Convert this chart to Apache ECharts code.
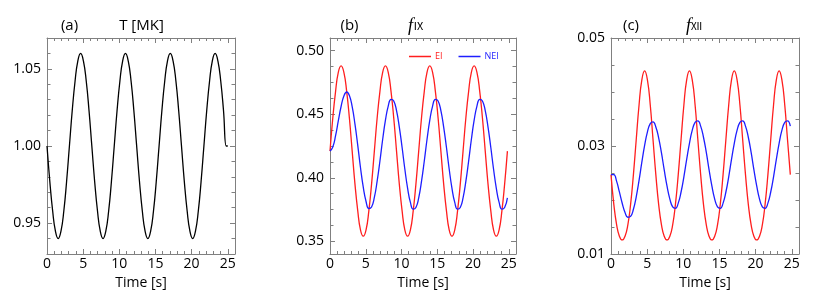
<!DOCTYPE html>
<html>
<head>
<meta charset="utf-8">
<script src="https://cdn.jsdelivr.net/npm/echarts@6/dist/echarts.min.js"></script>
<style>
  html, body { margin: 0; padding: 0; background: #fff; }
  #chart { width: 831px; height: 300px; }
</style>
</head>
<body>
<div id="chart"></div>
<script>
  // time [s], one sample every ~0.39 s
  var time = [0, 0.39, 0.78, 1.16, 1.55, 1.94, 2.33, 2.71, 3.10, 3.49, 3.88, 4.26, 4.65, 5.04, 5.43, 5.81,
    6.20, 6.59, 6.98, 7.36, 7.75, 8.14, 8.53, 8.91, 9.30, 9.69, 10.08, 10.46, 10.85, 11.24, 11.63, 12.01,
    12.40, 12.79, 13.18, 13.56, 13.95, 14.34, 14.73, 15.11, 15.50, 15.89, 16.28, 16.66, 17.05, 17.44, 17.83, 18.21,
    18.60, 18.99, 19.38, 19.76, 20.15, 20.54, 20.93, 21.31, 21.70, 22.09, 22.48, 22.86, 23.25, 23.64, 24.03, 24.41,
    24.80]

  // (a) T [MK]  (last point: flat end at t = 25)
  var timeT = time.concat([25])
  var tempMK = [1.000, 0.977, 0.958, 0.945, 0.940, 0.945, 0.958, 0.977, 1.000, 1.023, 1.042, 1.055, 1.060, 1.055, 1.042, 1.023,
    1.000, 0.977, 0.958, 0.945, 0.940, 0.945, 0.958, 0.977, 1.000, 1.023, 1.042, 1.055, 1.060, 1.055, 1.042, 1.023,
    1.000, 0.977, 0.958, 0.945, 0.940, 0.945, 0.958, 0.977, 1.000, 1.023, 1.042, 1.055, 1.060, 1.055, 1.042, 1.023,
    1.000, 0.977, 0.958, 0.945, 0.940, 0.945, 0.958, 0.977, 1.000, 1.023, 1.042, 1.055, 1.060, 1.055, 1.042, 1.023,
    1.000, 1.000]

  // (b) f_IX
  var fIX_EI = [0.421, 0.447, 0.468, 0.483, 0.488, 0.483, 0.468, 0.447, 0.421, 0.395, 0.374, 0.359, 0.354, 0.359, 0.374, 0.395,
    0.421, 0.447, 0.468, 0.483, 0.488, 0.483, 0.468, 0.447, 0.421, 0.395, 0.374, 0.359, 0.354, 0.359, 0.374, 0.395,
    0.421, 0.447, 0.468, 0.483, 0.488, 0.483, 0.468, 0.447, 0.421, 0.395, 0.374, 0.359, 0.354, 0.359, 0.374, 0.395,
    0.421, 0.447, 0.468, 0.483, 0.488, 0.483, 0.468, 0.447, 0.421, 0.395, 0.374, 0.359, 0.354, 0.359, 0.374, 0.395,
    0.421]
  var fIX_NEI = [0.4210, 0.4242, 0.4331, 0.4447, 0.4561, 0.4643, 0.4675, 0.4647, 0.4559, 0.4422, 0.4255, 0.4081, 0.3926, 0.3813, 0.3758, 0.3770,
    0.3845, 0.3973, 0.4132, 0.4301, 0.4453, 0.4564, 0.4617, 0.4604, 0.4528, 0.4399, 0.4238, 0.4069, 0.3917, 0.3806, 0.3753, 0.3766,
    0.3842, 0.3971, 0.4132, 0.4301, 0.4453, 0.4564, 0.4617, 0.4604, 0.4528, 0.4399, 0.4238, 0.4069, 0.3917, 0.3806, 0.3753, 0.3766,
    0.3842, 0.3971, 0.4132, 0.4301, 0.4453, 0.4564, 0.4617, 0.4604, 0.4528, 0.4399, 0.4238, 0.4069, 0.3917, 0.3806, 0.3753, 0.3766,
    0.3842]

  // (c) f_XII
  var fXII_EI = [0.0247, 0.0192, 0.0154, 0.0133, 0.0126, 0.0133, 0.0154, 0.0192, 0.0247, 0.0312, 0.0376, 0.0422, 0.0439, 0.0422, 0.0376, 0.0312,
    0.0247, 0.0192, 0.0154, 0.0133, 0.0126, 0.0133, 0.0154, 0.0192, 0.0247, 0.0312, 0.0376, 0.0422, 0.0439, 0.0422, 0.0376, 0.0312,
    0.0247, 0.0192, 0.0154, 0.0133, 0.0126, 0.0133, 0.0154, 0.0192, 0.0247, 0.0312, 0.0376, 0.0422, 0.0439, 0.0422, 0.0376, 0.0312,
    0.0247, 0.0192, 0.0154, 0.0133, 0.0126, 0.0133, 0.0154, 0.0192, 0.0247, 0.0312, 0.0376, 0.0422, 0.0439, 0.0422, 0.0376, 0.0312,
    0.0247]
  var fXII_NEI = [0.0247, 0.02468, 0.02344, 0.02149, 0.0194, 0.0177, 0.01681, 0.01698, 0.01828, 0.0206, 0.02362, 0.02695, 0.0301, 0.03262, 0.03414, 0.03446,
    0.03353, 0.03151, 0.02871, 0.02556, 0.02255, 0.02017, 0.01872, 0.01845, 0.01942, 0.02148, 0.0243, 0.02747, 0.0305, 0.03293, 0.03438, 0.03465,
    0.03368, 0.03162, 0.0288, 0.02563, 0.0226, 0.02017, 0.01872, 0.01845, 0.01942, 0.02148, 0.0243, 0.02747, 0.0305, 0.03293, 0.03438, 0.03465,
    0.03368, 0.03162, 0.0288, 0.02563, 0.0226, 0.02017, 0.01872, 0.01845, 0.01942, 0.02148, 0.0243, 0.02747, 0.0305, 0.03293, 0.03438, 0.03465,
    0.03368]

  // ticks
  var xMajor = [0, 5, 10, 15, 20, 25]
  var xMinor = [1, 2, 3, 4, 6, 7, 8, 9, 11, 12, 13, 14, 16, 17, 18, 19, 21, 22, 23, 24]
  var yMajorA = [0.95, 1.00, 1.05]
  var yMinorA = [0.94, 0.96, 0.97, 0.98, 0.99, 1.01, 1.02, 1.03, 1.04, 1.06]
  var yMajorB = [0.35, 0.40, 0.45, 0.50]
  var yMinorB = [0.3625, 0.375, 0.3875, 0.4125, 0.425, 0.4375, 0.4625, 0.475, 0.4875]
  var yMajorC = [0.01, 0.03, 0.05]
  var yMinorC = [0.015, 0.02, 0.025, 0.035, 0.04, 0.045]

  var FONT = 'Open Sans'
  var GRAY = '#808080'
  var RED = '#ff1e1e'
  var BLUE = '#1e1eff'

  var panels = [
    { left: 47, width: 188, yMin: 0.93, yMax: 1.07, yMajor: yMajorA, yMinor: yMinorA },
    { left: 330, width: 186, yMin: 0.34, yMax: 0.51, yMajor: yMajorB, yMinor: yMinorB },
    { left: 611, width: 188, yMin: 0.01, yMax: 0.05, yMajor: yMajorC, yMinor: yMinorC }
  ]

  function tickAxis(g, pos, min, max, ticks, len, line, labels, extra) {
    var ax = {
      type: 'value', gridIndex: g, position: pos, min: min, max: max,
      splitLine: { show: false },
      axisLine: { show: line, onZero: false, lineStyle: { color: GRAY, width: 1 } },
      axisTick: { show: true, inside: true, length: len, customValues: ticks, lineStyle: { color: GRAY, width: 1 } },
      axisLabel: labels ? labels : { show: false }
    }
    return Object.assign(ax, extra || {})
  }

  var grids = [], xAxes = [], yAxes = []
  panels.forEach(function (p, g) {
    grids.push({ left: p.left, top: 38, width: p.width, height: 216, outerBoundsMode: 'none' })

    xAxes.push(tickAxis(g, 'bottom', 0, 26, xMajor, 5, true, {
      customValues: xMajor, color: '#000', fontSize: 14, fontFamily: FONT, margin: 3
    }, {
      name: 'Time [s]', nameLocation: 'middle', nameGap: 16,
      nameTextStyle: { color: '#000', fontSize: 14, fontFamily: FONT }
    }))
    xAxes.push(tickAxis(g, 'bottom', 0, 26, xMinor, 3, false))
    xAxes.push(tickAxis(g, 'top', 0, 26, xMajor, 5, true))
    xAxes.push(tickAxis(g, 'top', 0, 26, xMinor, 3, false))

    yAxes.push(tickAxis(g, 'left', p.yMin, p.yMax, p.yMajor, 5, true, {
      customValues: p.yMajor, color: '#000', fontSize: 14, fontFamily: FONT, margin: 6,
      formatter: function (v) { return v.toFixed(2) }
    }))
    yAxes.push(tickAxis(g, 'left', p.yMin, p.yMax, p.yMinor, 3.5, false))
    yAxes.push(tickAxis(g, 'right', p.yMin, p.yMax, p.yMajor, 5, true))
    yAxes.push(tickAxis(g, 'right', p.yMin, p.yMax, p.yMinor, 3.5, false))
  })

  function line(name, g, xs, ys, color) {
    return {
      type: 'line', name: name, xAxisIndex: g * 4, yAxisIndex: g * 4,
      data: xs.map(function (t, i) { return [t, ys[i]] }),
      showSymbol: false, symbol: 'none', smooth: true, color: color,
      lineStyle: { color: color, width: 1.3 }, silent: true
    }
  }

  var series = [
    line('T', 0, timeT, tempMK, '#000'),
    line('EI', 1, time, fIX_EI, RED),
    line('NEI', 1, time, fIX_NEI, BLUE),
    line('EI', 2, time, fXII_EI, RED),
    line('NEI', 2, time, fXII_NEI, BLUE)
  ]

  function label(x, y, text, extra) {
    return {
      type: 'text', x: x, y: y,
      style: Object.assign({
        text: text, fill: '#000', font: '15px "Open Sans"',
        textAlign: 'center', textVerticalAlign: 'middle'
      }, extra || {})
    }
  }
  var fRich = {
    f: { fontFamily: 'Liberation Serif', fontStyle: 'italic', fontSize: 18, fill: '#000' },
    s: { fontFamily: 'Noto Sans CJK JP', fontSize: 11, fill: '#000' }
  }

  var chart = echarts.init(document.getElementById('chart'))
  chart.setOption({
    animation: false,
    backgroundColor: '#fff',
    grid: grids,
    xAxis: xAxes,
    yAxis: yAxes,
    legend: {
      data: [{ name: 'EI', textStyle: { color: RED } }, { name: 'NEI', textStyle: { color: BLUE } }],
      left: 404, top: 47, icon: 'rect', itemWidth: 22, itemHeight: 1.5, itemGap: 16,
      selectedMode: false,
      textStyle: { fontSize: 9, fontFamily: FONT, padding: [0, 0, 0, -1] }
    },
    graphic: [
      label(69.5, 26, '(a)'),
      label(141.5, 26, 'T [MK]'),
      label(349.5, 26, '(b)'),
      label(416, 26, '{f|f}{s|Ⅸ}', { rich: fRich }),
      label(631, 26, '(c)'),
      label(694, 26, '{f|f}{s|Ⅻ}', { rich: fRich })
    ],
    series: series
  })
</script>
</body>
</html>
